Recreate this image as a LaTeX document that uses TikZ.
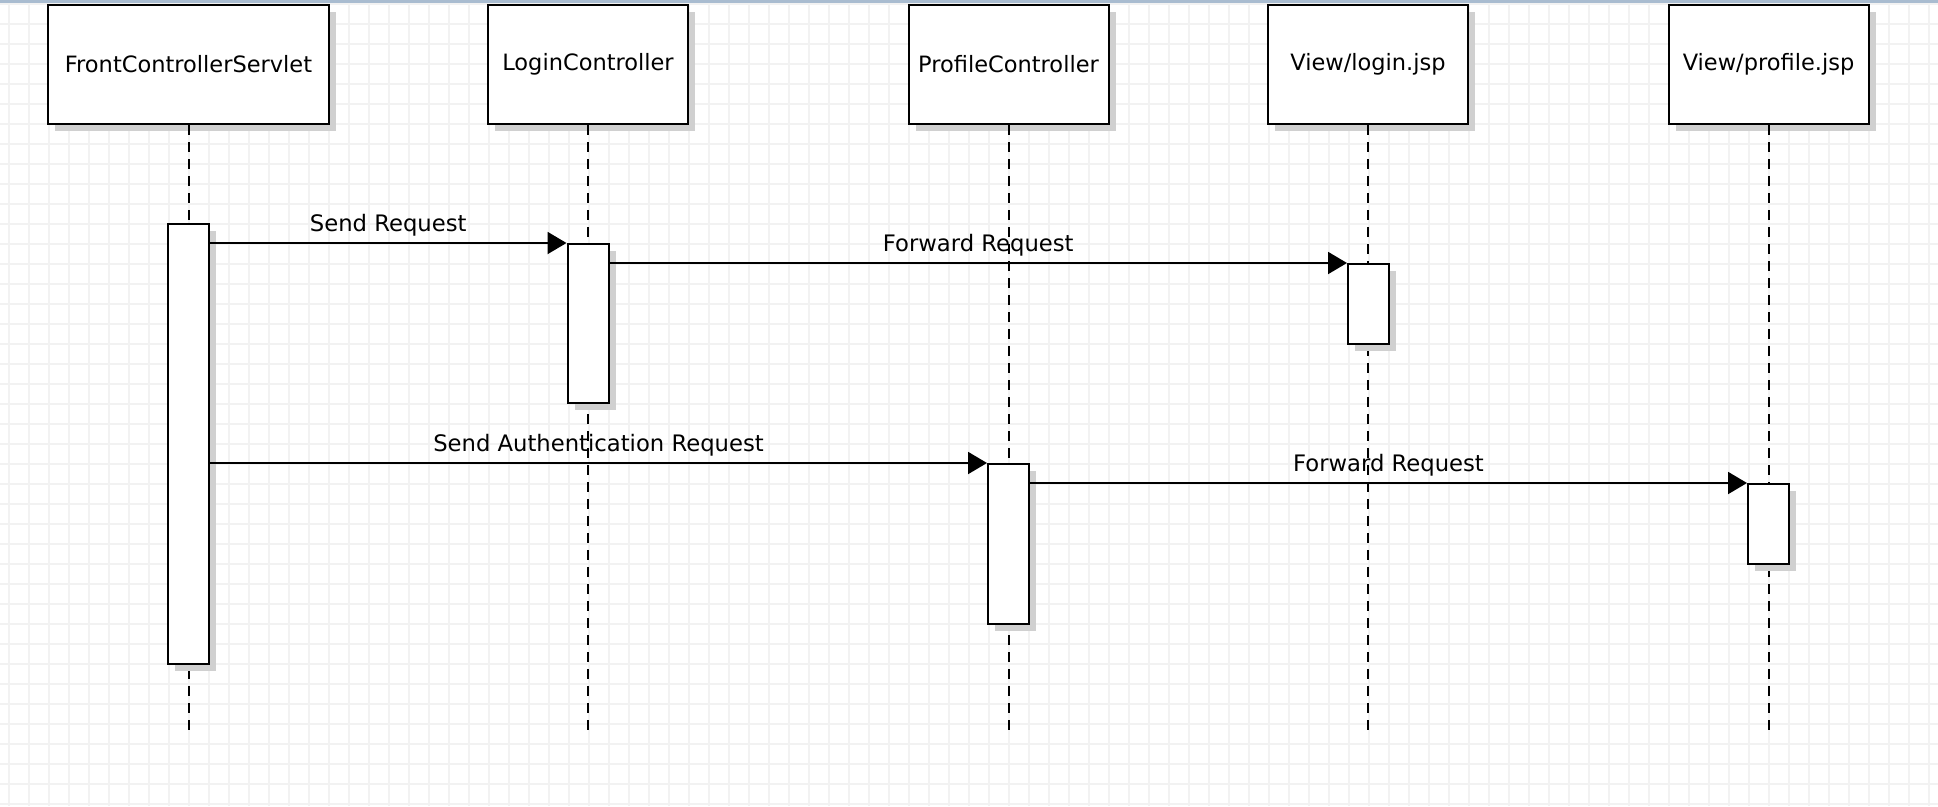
\documentclass[tikz,border=0pt]{standalone}
\usepackage{fontspec}
\setmainfont{DejaVu Sans}
\usetikzlibrary{arrows.meta,shadows}
\definecolor{gridgrey}{HTML}{F2F2F2}
\definecolor{shadowgrey}{HTML}{D0D0D0}
\definecolor{topbar}{HTML}{A9BCD0}
\tikzset{
  every node/.style={font=\fontsize{22.5}{26}\selectfont},
  actor/.style={draw=black, fill=white, line width=2pt, minimum width=200pt, minimum height=119pt, inner sep=0pt,
    general shadow={fill=shadowgrey, shadow xshift=7pt, shadow yshift=-7pt}},
  actbox/.style={draw=black, fill=white, line width=2pt, minimum width=41pt, inner sep=0pt,
    general shadow={fill=shadowgrey, shadow xshift=7pt, shadow yshift=-7pt}},
  lifeline/.style={line width=2pt, dash pattern=on 10pt off 7pt},
  msg/.style={line width=2pt, -{Triangle[length=19pt,width=22pt]}},
  msglabel/.style={anchor=base, yshift=12pt, inner sep=0pt, font=\fontsize{22.7}{26}\selectfont}
}
\begin{document}
\begin{tikzpicture}[x=1pt,y=-1pt]
\useasboundingbox (0,0) rectangle (1938,806);
% background grid
\fill[white] (0,0) rectangle (1938,806);
\foreach \gx in {9,29,...,1938} \draw[gridgrey, line width=1.5pt] (\gx,0) -- (\gx,806);
\foreach \gy in {4,24,...,806} \draw[gridgrey, line width=1.5pt] (0,\gy) -- (1938,\gy);
\fill[topbar] (0,0) rectangle (1938,2.7);
% actors
\node[actor, minimum width=281pt] (fcs) at (188.5,64.5) {FrontControllerServlet};
\node[actor] (lc) at (588,64.5) {LoginController};
\node[actor] (pc) at (1008.5,64.5) {ProfileController};
\node[actor] (lj) at (1368,64.5) {View/login.jsp};
\node[actor] (pj) at (1768.5,64.5) {View/profile.jsp};
% lifeline ends
\coordinate (fcsE) at (188.5,735);
\coordinate (lcE) at (588,735);
\coordinate (pcE) at (1008.5,735);
\coordinate (ljE) at (1368,735);
\coordinate (pjE) at (1768.5,735);
\draw[lifeline] (fcs.south) -- (fcsE);
\draw[lifeline] (lc.south) -- (lcE);
\draw[lifeline] (pc.south) -- (pcE);
\draw[lifeline] (lj.south) -- (ljE);
\draw[lifeline] (pj.south) -- (pjE);
% activations
\node[actbox, minimum height=440pt] (fa) at (188.5,444) {};
\node[actbox, minimum height=159pt] (la) at (588,323.5) {};
\node[actbox, minimum height=80pt] (ja) at (1368.5,304) {};
\node[actbox, minimum height=160pt] (pa) at (1008.5,544) {};
\node[actbox, minimum height=80pt] (qa) at (1768.5,524) {};
% messages
\draw[msg] (fa.east |- la.north west) -- node[msglabel] {Send Request} (la.north west);
\draw[msg] (la.east |- ja.north west) -- node[msglabel] {Forward Request} (ja.north west);
\draw[msg] (fa.east |- pa.north west) -- node[msglabel] {Send Authentication Request} (pa.north west);
\draw[msg] (pa.east |- qa.north west) -- node[msglabel] {Forward Request} (qa.north west);
\end{tikzpicture}
\end{document}
